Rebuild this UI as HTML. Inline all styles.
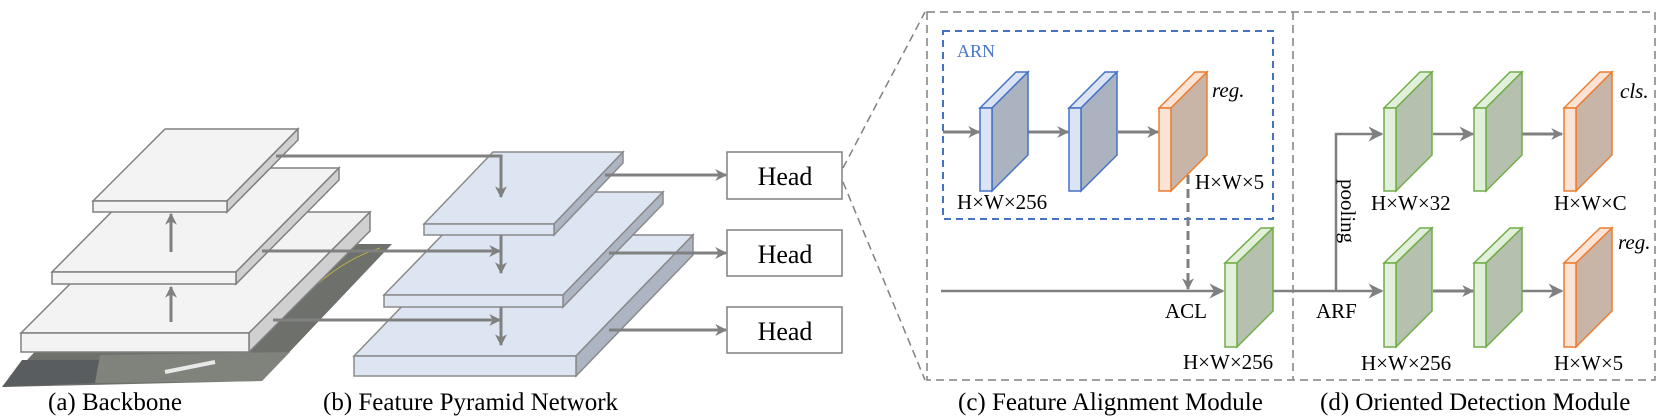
<!DOCTYPE html>
<html><head><meta charset="utf-8"><style>
html,body{margin:0;padding:0;background:#fff;}
svg{display:block;}
svg text{font-family:"Liberation Serif","Noto Serif CJK SC","DejaVu Serif",serif;fill:#000;}
</style></head><body>
<svg width="1660" height="417" viewBox="0 0 1660 417" xmlns="http://www.w3.org/2000/svg">
<defs>
<marker id="ah" viewBox="0 0 10 10" refX="9" refY="5" markerWidth="4" markerHeight="4" orient="auto-start-reverse" markerUnits="strokeWidth">
<path d="M0,0 L10,5 L0,10 L3,5 z" fill="#808080"/></marker>
<marker id="ah2" viewBox="0 0 10 10" refX="9" refY="5" markerWidth="6" markerHeight="6" orient="auto" markerUnits="strokeWidth">
<path d="M0,0 L10,5 L0,10 L3,5 z" fill="#808080"/></marker>
</defs>

<polygon points="2,387 262,381 392,244 135,244" fill="#6e706b"/>
<polygon points="2,387 95,383 110,360 22,360" fill="#5a5d5f"/>
<polygon points="95,383 262,381 290,352 100,355" fill="#80827c"/>
<path d="M165,372 L215,362" stroke="#e8e8e8" stroke-width="4"/>
<path d="M300,300 Q340,260 380,248" stroke="#b8b04a" stroke-width="1" fill="none"/>

<g stroke="#808080" stroke-width="1.5">
<polygon points="21,333 142,212 370,212 249,333" fill="#f3f3f3"/>
<polygon points="249,333 370,212 370,231 249,352" fill="#d0d0d0"/>
<rect x="21" y="333" width="228" height="19" fill="#f3f3f3"/>
<polygon points="52,272 155,168 339,168 236,272" fill="#f3f3f3"/>
<polygon points="236,272 339,168 339,180 236,284" fill="#d0d0d0"/>
<rect x="52" y="272" width="184" height="12" fill="#f3f3f3"/>
<polygon points="93,201 165,129 298,129 227,201" fill="#f3f3f3"/>
<polygon points="227,201 298,129 298,140 227,212" fill="#d0d0d0"/>
<rect x="93" y="201" width="134" height="11" fill="#f3f3f3"/>
</g>
<g stroke="#808080" stroke-width="3" fill="none">
<line x1="171" y1="322" x2="171" y2="287" marker-end="url(#ah)"/>
<line x1="171" y1="252" x2="171" y2="214" marker-end="url(#ah)"/>
</g>

<g stroke="#8a8a8a" stroke-width="1.5">
<polygon points="354,356 471,235 693,235 576,356" fill="#dde5f2"/>
<polygon points="576,356 693,235 693,255 576,376" fill="#aeb5c2"/>
<rect x="354" y="356" width="222" height="20" fill="#dde5f2"/>
<polygon points="384,295 484,192 663,192 563,295" fill="#dde5f2"/>
<polygon points="563,295 663,192 663,204 563,307" fill="#aeb5c2"/>
<rect x="384" y="295" width="179" height="12" fill="#dde5f2"/>
<polygon points="424,224 493,152 623,152 554,224" fill="#dde5f2"/>
<polygon points="554,224 623,152 623,163 554,235" fill="#aeb5c2"/>
<rect x="424" y="224" width="130" height="11" fill="#dde5f2"/>
</g>
<g stroke="#808080" stroke-width="3" fill="none">
<polyline points="276,156 501,156 501,197" marker-end="url(#ah)"/>
<line x1="262" y1="251" x2="500" y2="251" marker-end="url(#ah)"/>
<line x1="273" y1="320" x2="500" y2="320" marker-end="url(#ah)"/>
<line x1="501" y1="235" x2="501" y2="273" marker-end="url(#ah)"/>
<line x1="501" y1="307" x2="501" y2="345" marker-end="url(#ah)"/>
<line x1="605" y1="175" x2="726" y2="175" marker-end="url(#ah)"/>
<line x1="609" y1="253" x2="726" y2="253" marker-end="url(#ah)"/>
<line x1="609" y1="330" x2="726" y2="330" marker-end="url(#ah)"/>
</g>
<g stroke="#808080" stroke-width="1.5" fill="#fff">
<rect x="727" y="152" width="115" height="47"/>
<rect x="727" y="230" width="115" height="46"/>
<rect x="727" y="307" width="115" height="46"/>
</g>
<g font-size="26" text-anchor="middle">
<text x="785" y="185">Head</text>
<text x="785" y="263">Head</text>
<text x="785" y="340">Head</text>
</g>

<g stroke="#808080" stroke-width="1.5" stroke-dasharray="8,5" fill="none">
<line x1="843" y1="168" x2="925" y2="12"/>
<line x1="843" y1="182" x2="925" y2="380"/>
<rect x="927" y="12" width="728" height="368"/>
<line x1="1293" y1="12" x2="1293" y2="380"/>
</g>
<rect x="943" y="31" width="330" height="188" fill="none" stroke="#4472c4" stroke-width="2" stroke-dasharray="7,5"/>
<text x="957" y="57" font-size="18" style="fill:#4a76c8">ARN</text>

<g stroke="#808080" stroke-width="3" fill="none">
<line x1="943" y1="132" x2="979" y2="132" marker-end="url(#ah)"/>
<line x1="1028" y1="132" x2="1068" y2="132" marker-end="url(#ah)"/>
<line x1="1118" y1="132" x2="1158" y2="132" marker-end="url(#ah)"/>
<line x1="1188" y1="175" x2="1188" y2="289" stroke-dasharray="9,5" marker-end="url(#ah)"/>
</g>
<g stroke="#808080" stroke-width="2.5" fill="none">
<line x1="941" y1="291" x2="1223" y2="291" marker-end="url(#ah2)"/>
<line x1="1273" y1="291" x2="1382" y2="291" marker-end="url(#ah2)"/>
<polyline points="1336,291 1336,134 1382,134" marker-end="url(#ah2)"/>
<line x1="1433" y1="134" x2="1473" y2="134" marker-end="url(#ah2)"/>
<line x1="1522" y1="134" x2="1562" y2="134" stroke-width="3" marker-end="url(#ah)"/>
<line x1="1433" y1="291" x2="1473" y2="291" stroke-width="3" marker-end="url(#ah)"/>
<line x1="1522" y1="291" x2="1562" y2="291" marker-end="url(#ah2)"/>
</g>

<g stroke-width="1.5">
<g stroke="#4472c4">
<polygon points="980,108 1016,72 1028,72 992,108" fill="#dbe4f4"/>
<polygon points="992,108 1028,72 1028,155 992,191" fill="#abb3c1"/>
<rect x="980" y="108" width="12" height="83" fill="#dbe4f4"/>
<polygon points="1069,108 1105,72 1117,72 1081,108" fill="#dbe4f4"/>
<polygon points="1081,108 1117,72 1117,155 1081,191" fill="#abb3c1"/>
<rect x="1069" y="108" width="12" height="83" fill="#dbe4f4"/>
</g>
<g stroke="#ed7d31">
<polygon points="1159,108 1195,72 1207,72 1171,108" fill="#fbe4d5"/>
<polygon points="1171,108 1207,72 1207,155 1171,191" fill="#c9b5a8"/>
<rect x="1159" y="108" width="12" height="83" fill="#fbe4d5"/>
<polygon points="1564,108 1600,72 1612,72 1576,108" fill="#fbe4d5"/>
<polygon points="1576,108 1612,72 1612,155 1576,191" fill="#c9b5a8"/>
<rect x="1564" y="108" width="12" height="83" fill="#fbe4d5"/>
<polygon points="1564,263 1600,228 1612,228 1576,263" fill="#fbe4d5"/>
<polygon points="1576,263 1612,228 1612,311 1576,347" fill="#c9b5a8"/>
<rect x="1564" y="263" width="12" height="84" fill="#fbe4d5"/>
</g>
<g stroke="#70ad47">
<polygon points="1225,263 1261,228 1273,228 1237,263" fill="#e2efda"/>
<polygon points="1237,263 1273,228 1273,311 1237,347" fill="#b5c1ae"/>
<rect x="1225" y="263" width="12" height="84" fill="#e2efda"/>
<polygon points="1384,108 1420,72 1432,72 1396,108" fill="#e2efda"/>
<polygon points="1396,108 1432,72 1432,155 1396,191" fill="#b5c1ae"/>
<rect x="1384" y="108" width="12" height="83" fill="#e2efda"/>
<polygon points="1474,108 1510,72 1522,72 1486,108" fill="#e2efda"/>
<polygon points="1486,108 1522,72 1522,155 1486,191" fill="#b5c1ae"/>
<rect x="1474" y="108" width="12" height="83" fill="#e2efda"/>
<polygon points="1384,263 1420,228 1432,228 1396,263" fill="#e2efda"/>
<polygon points="1396,263 1432,228 1432,311 1396,347" fill="#b5c1ae"/>
<rect x="1384" y="263" width="12" height="84" fill="#e2efda"/>
<polygon points="1474,263 1510,228 1522,228 1486,263" fill="#e2efda"/>
<polygon points="1486,263 1522,228 1522,311 1486,347" fill="#b5c1ae"/>
<rect x="1474" y="263" width="12" height="84" fill="#e2efda"/>
</g>
</g>

<g font-size="21">
<text x="957" y="209">H×W×256</text>
<text x="1195" y="189">H×W×5</text>
<text x="1212" y="97" font-style="italic">reg.</text>
<text x="1165" y="318">ACL</text>
<text x="1183" y="369">H×W×256</text>
<text x="1316" y="318">ARF</text>
<text x="1371" y="210">H×W×32</text>
<text x="1554" y="210">H×W×C</text>
<text x="1620" y="98" font-style="italic">cls.</text>
<text x="1618" y="249" font-style="italic">reg.</text>
<text x="1361" y="370">H×W×256</text>
<text x="1554" y="370">H×W×5</text>
<text transform="translate(1341,179) rotate(90)">pooling</text>
</g>
<g font-size="25">
<text x="48" y="410">(a) Backbone</text>
<text x="323" y="410">(b) Feature Pyramid Network</text>
<text x="958" y="410">(c) Feature Alignment Module</text>
<text x="1320" y="410">(d) Oriented Detection Module</text>
</g>
</svg>
</body></html>
